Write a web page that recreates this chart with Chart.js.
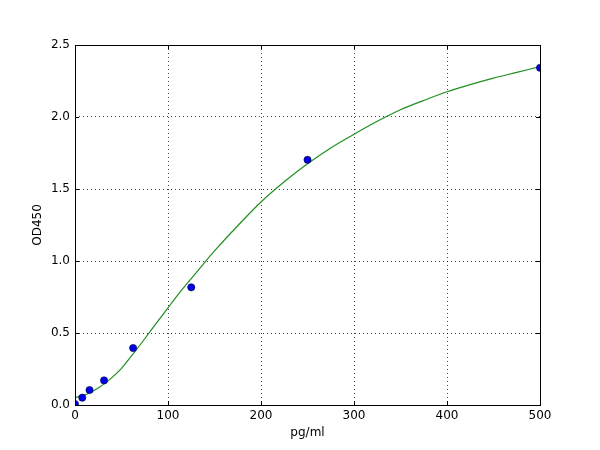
<!DOCTYPE html>
<html>
<head>
<meta charset="utf-8">
<title>Standard curve</title>
<script src="https://cdn.jsdelivr.net/npm/chart.js@4/dist/chart.umd.min.js"></script>
<style>
  html, body { margin: 0; padding: 0; background: #fff; }
  #wrap { width: 600px; height: 450px; }
</style>
</head>
<body>
<div id="wrap"><canvas id="myChart" width="600" height="450"></canvas></div>
<script>
// standards
const standardConc = [0, 7.8, 15.6, 31.25, 62.5, 125, 250, 500];
const standardOD = [0.007, 0.051, 0.104, 0.171, 0.396, 0.817, 1.703, 2.342];

// fitted curve, sampled by eye along the green line
const curveConc = [0, 12.5, 25, 37.5, 50, 62.5, 75, 87.5, 100, 112.5, 125, 137.5, 150, 175, 200, 225, 250, 275, 300, 325, 350, 375, 400, 425, 450, 475, 500];
const curveOD = [0.05, 0.075, 0.118, 0.178, 0.255, 0.355, 0.46, 0.568, 0.675, 0.78, 0.878, 0.975, 1.07, 1.245, 1.41, 1.55, 1.675, 1.785, 1.88, 1.97, 2.05, 2.115, 2.175, 2.225, 2.27, 2.31, 2.35];

const xTicks = [0, 100, 200, 300, 400, 500];
const yTicks = [0, 0.5, 1.0, 1.5, 2.0, 2.5];

const xLabel = 'pg/ml';
const yLabel = 'OD450';

const FONT = "'DejaVu Sans', sans-serif";

// frame + inward tick marks, matplotlib style
const framePlugin = {
  id: 'frame',
  afterDraw(chart) {
    const { ctx, chartArea: a, scales } = chart;
    ctx.save();
    ctx.strokeStyle = '#000';
    ctx.lineWidth = 1;
    ctx.beginPath();
    xTicks.forEach((v) => {
      const px = Math.round(scales.x.getPixelForValue(v)) + 0.5;
      ctx.moveTo(px, a.bottom); ctx.lineTo(px, a.bottom - 4);
      ctx.moveTo(px, a.top); ctx.lineTo(px, a.top + 4);
    });
    yTicks.forEach((v) => {
      const py = Math.round(scales.y.getPixelForValue(v)) + 0.5;
      ctx.moveTo(a.left, py); ctx.lineTo(a.left + 4, py);
      ctx.moveTo(a.right, py); ctx.lineTo(a.right - 4, py);
    });
    ctx.stroke();
    ctx.strokeRect(Math.round(a.left) + 0.5, Math.round(a.top) + 0.5,
      Math.round(a.right - a.left), Math.round(a.bottom - a.top));
    ctx.restore();
  },
};

const ctx = document.getElementById('myChart').getContext('2d');

new Chart(ctx, {
  data: {
    datasets: [
      {
        type: 'line',
        label: 'fit',
        data: curveConc.map((x, i) => ({ x: x, y: curveOD[i] })),
        borderColor: '#1f8f1f',
        borderWidth: 1.2,
        pointRadius: 0,
        cubicInterpolationMode: 'monotone',
        fill: false,
        clip: 0,
        order: 2,
      },
      {
        type: 'scatter',
        label: 'standards',
        data: standardConc.map((x, i) => ({ x: x, y: standardOD[i] })),
        backgroundColor: '#0000ee',
        borderColor: '#000033',
        borderWidth: 0.6,
        pointRadius: 3.6,
        clip: 0,
        order: 1,
      },
    ],
  },
  options: {
    responsive: false,
    animation: false,
    layout: { padding: { top: 45, right: 60, left: 0, bottom: 0 } },
    plugins: {
      legend: { display: false },
      tooltip: { enabled: false },
    },
    scales: {
      x: {
        type: 'linear',
        min: 0,
        max: 500,
        afterBuildTicks: (scale) => { scale.ticks = xTicks.map((v) => ({ value: v })); },
        afterFit: (scale) => { scale.height = 45; },
        ticks: {
          color: '#000',
          font: { family: FONT, size: 12 },
          padding: 4,
          maxRotation: 0,
          callback: (v) => String(v),
        },
        grid: {
          color: 'rgba(0,0,0,0.75)',
          borderDash: [1, 3],
          drawTicks: false,
          lineWidth: 1,
        },
        border: { display: false, dash: [1, 3] },
        title: {
          display: true,
          text: xLabel,
          color: '#000',
          font: { family: FONT, size: 12 },
          padding: { top: 0, bottom: 10 },
        },
      },
      y: {
        type: 'linear',
        min: 0,
        max: 2.5,
        afterBuildTicks: (scale) => { scale.ticks = yTicks.map((v) => ({ value: v })); },
        afterFit: (scale) => { scale.width = 75; },
        ticks: {
          color: '#000',
          font: { family: FONT, size: 12 },
          padding: 5,
          callback: (v) => Number(v).toFixed(1),
        },
        grid: {
          color: 'rgba(0,0,0,0.75)',
          borderDash: [1, 3],
          drawTicks: false,
          lineWidth: 1,
        },
        border: { display: false, dash: [1, 3] },
        title: {
          display: true,
          text: yLabel,
          color: '#000',
          font: { family: FONT, size: 12 },
          padding: { top: 31, bottom: 0 },
        },
      },
    },
  },
  plugins: [framePlugin],
});
</script>
</body>
</html>
